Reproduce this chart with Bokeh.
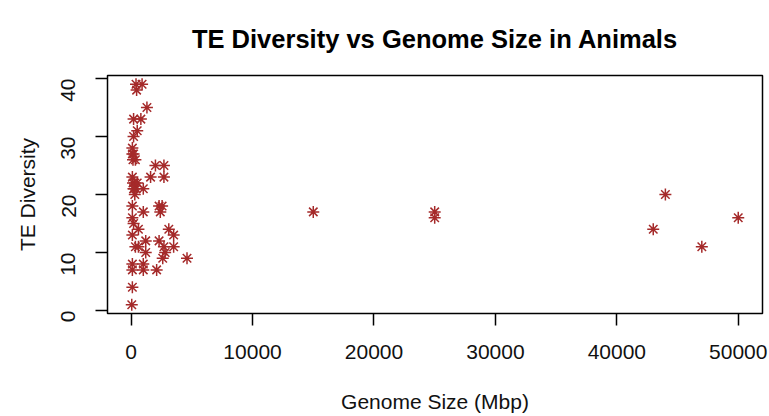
import math
from bokeh.plotting import figure
from bokeh.models import FixedTicker, BasicTickFormatter, Range1d
from bokeh.embed import file_html
from bokeh.resources import INLINE

# ---- data ----
genome_size = [
    400, 900, 450, 1300, 200, 800, 500, 200, 100, 100, 350, 200, 150,
    2000, 2700, 1600, 2700,
    100, 150, 300, 200, 400, 300, 500, 220, 1000,
    100, 1000, 2300, 2550, 2400,
    100, 200, 600, 100, 3100, 3500,
    350, 600, 1200, 1200, 2300, 2700, 2800, 2600, 3500, 4600,
    100, 1000, 100, 1000, 2100, 100, 50,
    15000, 25000, 25000, 44000, 43000, 47000, 50000,
]
te_diversity = [
    39, 39, 38, 35, 33, 33, 31, 30, 28, 27, 26, 27, 26,
    25, 25, 23, 23,
    23, 22, 22, 21, 21, 20, 22, 21, 21,
    18, 17, 18, 18, 17,
    16, 15, 14, 13, 14, 13,
    11, 11, 12, 10, 12, 11, 10, 9, 11, 9,
    8, 8, 7, 7, 7, 4, 1,
    17, 17, 16, 20, 14, 11, 16,
]
x_ticks = [0, 10000, 20000, 30000, 40000, 50000]
y_ticks = [0, 10, 20, 30, 40]

title_text = "TE Diversity vs Genome Size in Animals"
x_label = "Genome Size (Mbp)"
y_label = "TE Diversity"

# R-style 4% padding on data extent
xmin, xmax = min(genome_size), max(genome_size)
ymin, ymax = min(te_diversity), max(te_diversity)
xpad = (xmax - xmin) * 0.04
ypad = (ymax - ymin) * 0.04
x_range = Range1d(xmin - xpad, xmax + xpad)
y_range = Range1d(ymin - ypad, ymax + ypad)

FONT = "Liberation Sans"

p = figure(
    width=769, height=416,
    output_backend="svg", toolbar_location=None,
    x_range=x_range, y_range=y_range,
    min_border_left=107, min_border_right=7,
    min_border_top=75, min_border_bottom=103,
    background_fill_color="white", border_fill_color="white",
)

p.title.text = title_text
p.title.align = "center"
p.title.vertical_align = "top"
p.title.text_font = FONT
p.title.text_font_size = "25.5px"
p.title.text_font_style = "bold"
p.title.text_color = "black"
p.title.standoff = 42

p.outline_line_color = "black"
p.outline_line_width = 1.5
p.outline_line_alpha = 1.0
p.grid.visible = False

p.xaxis.ticker = FixedTicker(ticks=x_ticks)
p.yaxis.ticker = FixedTicker(ticks=y_ticks)
p.xaxis.formatter = BasicTickFormatter(use_scientific=False)
p.yaxis.major_label_orientation = math.pi / 2

for ax in (p.xaxis[0], p.yaxis[0]):
    ax.axis_line_color = None
    ax.major_tick_line_color = "black"
    ax.major_tick_line_width = 1.5
    ax.major_tick_in = 0
    ax.major_tick_out = 12
    ax.minor_tick_line_color = None
    ax.major_label_text_font = FONT
    ax.major_label_text_font_size = "21px"
    ax.major_label_text_color = "#111111"
    ax.axis_label_text_font = FONT
    ax.axis_label_text_font_size = "21px"
    ax.axis_label_text_font_style = "normal"
    ax.axis_label_text_color = "#111111"

p.xaxis.axis_label = x_label
p.yaxis.axis_label = y_label
p.xaxis.major_label_standoff = 19
p.yaxis.major_label_standoff = 27
p.xaxis.axis_label_standoff = 28
p.yaxis.axis_label_standoff = 13

p.scatter(genome_size, te_diversity, marker="asterisk", size=12,
          line_color="#A52A2A", line_width=1.5)

open("out.html", "w").write(file_html(p, INLINE))
